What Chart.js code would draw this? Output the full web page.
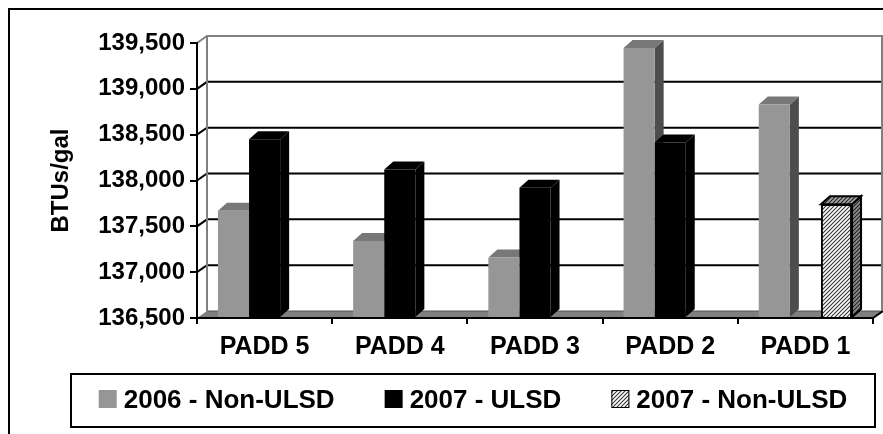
<!DOCTYPE html>
<html>
<head>
<meta charset="utf-8">
<title>BTUs/gal by PADD</title>
<script src="https://cdn.jsdelivr.net/npm/chart.js@4.4.0/dist/chart.umd.min.js"></script>
<style>
  html, body { margin: 0; padding: 0; background: #fff; }
  canvas { display: block; }
</style>
</head>
<body>
<canvas id="btuChart" width="883" height="434"></canvas>
<script>
const categories = ['PADD 5', 'PADD 4', 'PADD 3', 'PADD 2', 'PADD 1'];
const seriesNames = ['2006 - Non-ULSD', '2007 - ULSD', '2007 - Non-ULSD'];
const nonUlsd2006 = [137670, 137340, 137160, 139445, 138830];
const ulsd2007 = [138450, 138120, 137920, 138415, null];
const nonUlsd2007 = [null, null, null, null, 137740];
const yMin = 136500, yMax = 139500, yStep = 500;
const yTitle = 'BTUs/gal';

const FONT = '"Liberation Sans", Arial, sans-serif';
const wallDx = 10, wallDy = -7;   // depth of walls / floor
const barDx = 9, barDy = -8;      // depth of the bars

function hatch(bg, fg) {
    const c = document.createElement('canvas');
    c.width = 4; c.height = 4;
    const g = c.getContext('2d');
    g.fillStyle = bg;
    g.fillRect(0, 0, 4, 4);
    g.strokeStyle = fg;
    g.lineWidth = 1.1;
    g.beginPath();
    g.moveTo(0, 4); g.lineTo(4, 0);
    g.moveTo(-1, 1); g.lineTo(1, -1);
    g.moveTo(3, 5); g.lineTo(5, 3);
    g.stroke();
    return g.createPattern(c, 'repeat');
}

const faces = [
    { front: '#969696', top: '#787878', side: '#4d4d4d', border: null },
    { front: '#000000', top: '#000000', side: '#000000', border: null },
    { front: hatch('#ffffff', '#333333'), top: hatch('#a8a8a8', '#222222'), side: hatch('#8c8c8c', '#222222'), border: '#000000' }
];

function poly(ctx, pts) {
    ctx.beginPath();
    ctx.moveTo(pts[0][0], pts[0][1]);
    pts.slice(1).forEach(p => ctx.lineTo(p[0], p[1]));
    ctx.closePath();
}

// walls, floor and the depth faces of the bars
const frame3d = {
    id: 'frame3d',
    beforeDraw(chart) {
        const { ctx, chartArea: a, scales: { y } } = chart;
        ctx.save();
        ctx.strokeStyle = '#000';
        ctx.lineWidth = 2;
        ctx.strokeRect(9, 9, chart.width + 20, chart.height + 20);

        // floor
        ctx.fillStyle = '#808080';
        poly(ctx, [[a.left, a.bottom], [a.right, a.bottom], [a.right + wallDx, a.bottom + wallDy], [a.left + wallDx, a.bottom + wallDy]]);
        ctx.fill();
        ctx.strokeStyle = '#555';
        ctx.lineWidth = 1;
        ctx.beginPath();
        ctx.moveTo(a.left + wallDx, a.bottom + wallDy);
        ctx.lineTo(a.right + wallDx, a.bottom + wallDy);
        ctx.stroke();
        ctx.strokeStyle = '#000';
        ctx.lineWidth = 2;
        ctx.beginPath();
        ctx.moveTo(a.right, a.bottom);
        ctx.lineTo(a.right + wallDx, a.bottom + wallDy);
        ctx.stroke();

        // gridlines on side and back wall
        y.ticks.forEach(t => {
            if (t.value === yMin || t.value === yMax) return;
            const py = y.getPixelForValue(t.value);
            ctx.beginPath();
            ctx.moveTo(a.left, py);
            ctx.lineTo(a.left + wallDx, py + wallDy);
            ctx.lineTo(a.right + wallDx, py + wallDy);
            ctx.stroke();
        });

        // wall outline
        ctx.strokeStyle = '#808080';
        ctx.beginPath();
        ctx.moveTo(a.left, a.top);
        ctx.lineTo(a.left + wallDx, a.top + wallDy);
        ctx.lineTo(a.right + wallDx - 1, a.top + wallDy);
        ctx.lineTo(a.right + wallDx - 1, a.bottom + wallDy);
        ctx.moveTo(a.left + wallDx, a.top + wallDy);
        ctx.lineTo(a.left + wallDx, a.bottom + wallDy);
        ctx.stroke();
        ctx.restore();
    },
    beforeDatasetsDraw(chart) {
        const ctx = chart.ctx;
        ctx.save();
        categories.forEach((c, i) => {
            chart.data.datasets.forEach((ds, d) => {
                if (ds.data[i] == null) return;
                const el = chart.getDatasetMeta(d).data[i];
                const { x, y, base, width } = el.getProps(['x', 'y', 'base', 'width'], true);
                const l = x - width / 2, r = x + width / 2;
                const f = faces[d];
                const side = [[r, y], [r + barDx, y + barDy], [r + barDx, base + barDy], [r, base]];
                const top = [[l, y], [l + barDx, y + barDy], [r + barDx, y + barDy], [r, y]];
                ctx.fillStyle = f.side;
                poly(ctx, side);
                ctx.fill();
                if (f.border) { ctx.strokeStyle = f.border; ctx.lineWidth = 2; ctx.stroke(); }
                ctx.fillStyle = f.top;
                poly(ctx, top);
                ctx.fill();
                if (f.border) { ctx.stroke(); }
            });
        });
        ctx.restore();
    }
};

// boxed legend under the axis
const legendBox = {
    id: 'legendBox',
    afterDraw(chart) {
        const ctx = chart.ctx;
        const top = chart.scales.x.bottom, bottom = chart.height - 7;
        const left = 71, right = 875;
        ctx.save();
        ctx.strokeStyle = '#000';
        ctx.lineWidth = 2;
        ctx.strokeRect(left, top, right - left, bottom - top);

        ctx.font = 'bold 26px ' + FONT;
        ctx.textBaseline = 'alphabetic';
        ctx.textAlign = 'left';
        const box = 18, gap = 7, spacing = 50;
        const widths = chart.data.datasets.map(ds => box + gap + ctx.measureText(ds.label).width);
        const total = widths.reduce((s, w) => s + w, 0) + spacing * (widths.length - 1);
        let x = (left + right) / 2 - total / 2;
        const mid = (top + bottom) / 2 - 1.5;
        chart.data.datasets.forEach((ds, d) => {
            ctx.fillStyle = faces[d].front;
            ctx.fillRect(x, mid - box / 2, box, box);
            if (faces[d].border) {
                ctx.lineWidth = 1;
                ctx.strokeStyle = '#000';
                ctx.strokeRect(x + 0.5, mid - box / 2 + 0.5, box - 1, box - 1);
            }
            ctx.fillStyle = '#000';
            ctx.fillText(ds.label, x + box + gap, mid + 9);
            x += widths[d] + spacing;
        });
        ctx.restore();
    }
};

new Chart(document.getElementById('btuChart'), {
    type: 'bar',
    data: {
        labels: categories,
        datasets: [
            { label: seriesNames[0], data: nonUlsd2006, backgroundColor: faces[0].front, borderWidth: 0 },
            { label: seriesNames[1], data: ulsd2007, backgroundColor: faces[1].front, borderWidth: 0 },
            { label: seriesNames[2], data: nonUlsd2007, backgroundColor: faces[2].front, borderColor: '#000', borderWidth: 2 }
        ]
    },
    options: {
        responsive: false,
        animation: false,
        devicePixelRatio: 1,
        datasets: { bar: { categoryPercentage: 0.69, barPercentage: 1, base: yMin } },
        layout: { padding: { top: 43, right: 10, bottom: 60, left: 0 } },
        plugins: { legend: { display: false }, tooltip: { enabled: false } },
        scales: {
            x: {
                grid: { drawOnChartArea: false, drawTicks: true, tickLength: 6, color: '#000', lineWidth: 2, offset: true },
                border: { color: '#000', width: 2 },
                ticks: { color: '#000', font: { family: FONT, size: 25, weight: 'bold' }, padding: 8, maxRotation: 0, autoSkip: false },
                afterFit(s) { s.height = 56; }
            },
            y: {
                min: yMin,
                max: yMax,
                ticks: { stepSize: yStep, color: '#000', font: { family: FONT, size: 24, weight: 'bold' }, padding: 5 },
                grid: { drawOnChartArea: false, drawTicks: true, tickLength: 7, color: '#000', lineWidth: 2 },
                border: { color: '#000', width: 2 },
                title: { display: true, text: yTitle, color: '#000', font: { family: FONT, size: 24, weight: 'bold' }, padding: { top: 47, bottom: 0 } },
                afterFit(s) { s.width = 197; }
            }
        }
    },
    plugins: [frame3d, legendBox]
});
</script>
</body>
</html>
